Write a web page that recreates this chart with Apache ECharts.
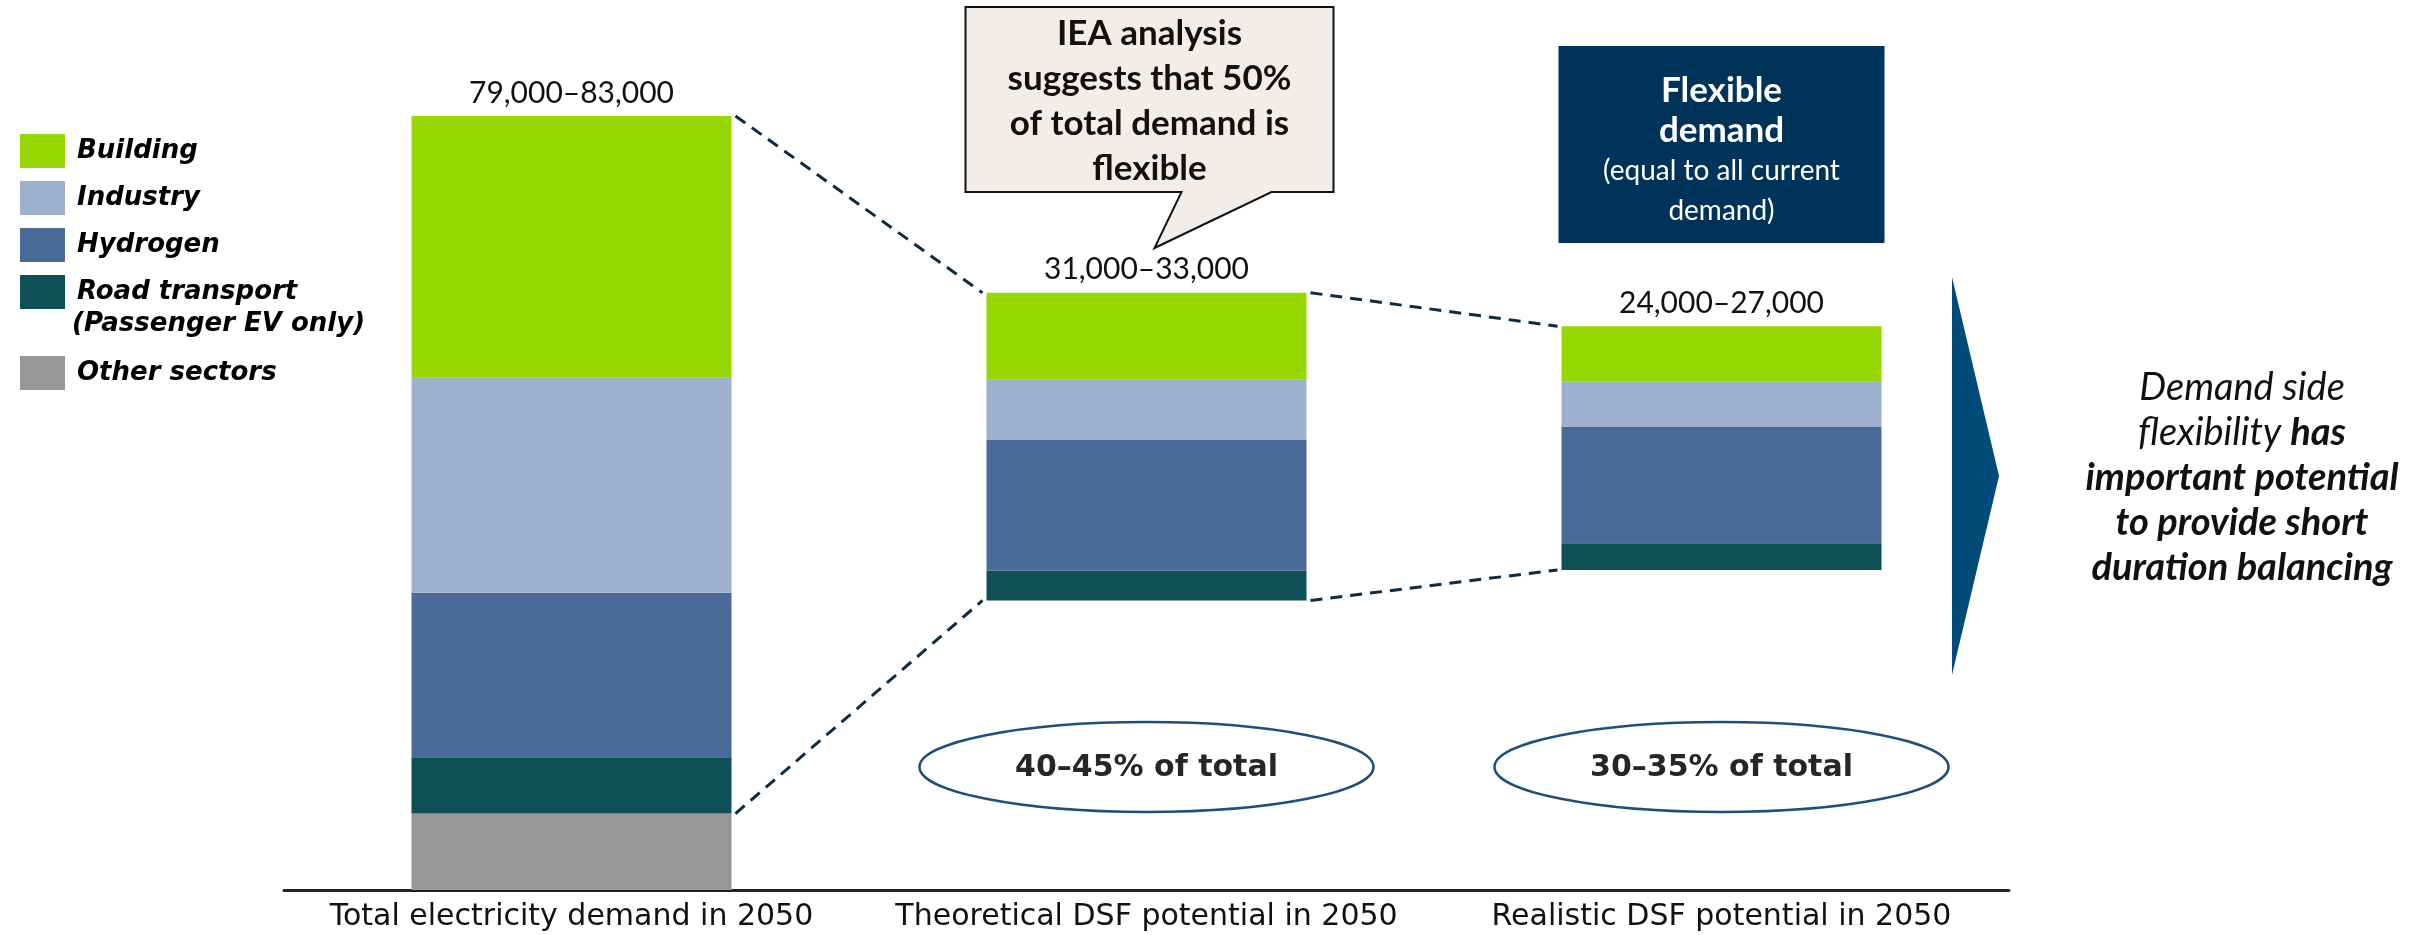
<!DOCTYPE html>
<html>
<head>
<meta charset="utf-8">
<script src="https://cdn.jsdelivr.net/npm/echarts@6/dist/echarts.min.js"></script>
<style>
  html, body { margin: 0; padding: 0; background: #fff; }
  #main { width: 2425px; height: 935px; }
</style>
</head>
<body>
<div id="main"></div>
<script>
// Electricity demand in 2050 and demand side flexibility
const categories = ['Total electricity demand in 2050', 'Theoretical DSF potential in 2050', 'Realistic DSF potential in 2050'];
const offset   = [0, 30300, 33500];      // invisible base so the DSF bars float
const other    = [8000, 0, 0];
const road     = [5900, 3100, 2800];
const hydrogen = [17200, 13700, 12200];
const industry = [22500, 6300, 4700];
const building = [27400, 9100, 5800];
const totalLabels = ['79,000–83,000', '31,000–33,000', '24,000–27,000'];
const shareLabels = ['', '40–45% of total', '30–35% of total'];

const FONT = 'Lato, "Noto Sans", sans-serif';
const WIDE = '"DejaVu Sans", sans-serif';
const colors = { building: '#97d700', industry: '#9db0ce', hydrogen: '#4a6b9a', road: '#0e5056', other: '#979797' };
const BAR_W = 320;

function barSeries(name, data, color) {
    return { name, type: 'bar', stack: 'd', data, barWidth: BAR_W, itemStyle: { color }, silent: true };
}

const legendText = { fontSize: 26, fontWeight: 'bold', fontStyle: 'italic', color: '#000', fontFamily: WIDE, padding: [0, 0, 0, 7] };

const option = {
    animation: false,
    grid: { left: 284, right: 416, top: 30, bottom: 45 },
    legend: [
        { data: ['Building', 'Industry', 'Hydrogen', 'Road transport'], orient: 'vertical', left: 15, top: 129,
          icon: 'rect', itemWidth: 45, itemHeight: 34, itemGap: 13, selectedMode: false, textStyle: legendText },
        { data: ['Other sectors'], orient: 'vertical', left: 15, top: 351,
          icon: 'rect', itemWidth: 45, itemHeight: 34, selectedMode: false, textStyle: legendText }
    ],
    xAxis: {
        type: 'category', data: categories,
        axisLine: { lineStyle: { color: '#222', width: 3 } },
        axisTick: { show: false },
        axisLabel: { interval: 0, fontSize: 30, color: '#111', margin: 12, fontFamily: WIDE }
    },
    yAxis: { type: 'value', min: 0, max: 90000, show: false, splitLine: { show: false } },
    series: [
        { name: 'base', type: 'bar', stack: 'd', data: offset, barWidth: BAR_W, itemStyle: { color: 'transparent' }, silent: true },
        barSeries('Other sectors', other, colors.other),
        barSeries('Road transport', road, colors.road),
        barSeries('Hydrogen', hydrogen, colors.hydrogen),
        barSeries('Industry', industry, colors.industry),
        Object.assign(barSeries('Building', building, colors.building), {
            label: { show: true, position: 'top', distance: 8, fontSize: 30, color: '#111', fontFamily: FONT,
                     formatter: p => totalLabels[p.dataIndex] }
        })
    ]
};

const chart = echarts.init(document.getElementById('main'));
chart.setOption(option);

// --- annotations placed from the chart's own scale ---
function px(i, v) { return chart.convertToPixel({ gridIndex: 0 }, [i, v]); }
function flexTop(i) { return offset[i] + other[i] + road[i] + hydrogen[i] + industry[i] + building[i]; }
function flexBottom(i) { return offset[i] + other[i]; }

const graphics = [];
const dash = { stroke: '#0d2b45', lineWidth: 3, lineDash: [12, 8] };
for (let i = 0; i < categories.length - 1; i++) {
    const a = px(i, flexTop(i)), b = px(i + 1, flexTop(i + 1));
    const c = px(i, flexBottom(i)), d = px(i + 1, flexBottom(i + 1));
    const h = BAR_W / 2;
    graphics.push({ type: 'line', shape: { x1: a[0] + h + 4, y1: a[1], x2: b[0] - h - 4, y2: b[1] }, style: dash, silent: true });
    graphics.push({ type: 'line', shape: { x1: c[0] + h + 4, y1: c[1], x2: d[0] - h - 4, y2: d[1] }, style: dash, silent: true });
}

// ellipses with share of total
for (let i = 1; i < categories.length; i++) {
    const cx = px(i, 0)[0];
    graphics.push({ type: 'ellipse', shape: { cx, cy: 767, rx: 227, ry: 45 },
        style: { fill: '#fff', stroke: '#1f4e79', lineWidth: 2.5 }, silent: true });
    graphics.push({ type: 'text', x: cx, y: 768, silent: true,
        style: { text: shareLabels[i], align: 'center', verticalAlign: 'middle', fontSize: 30, fontWeight: 'bold', fontFamily: WIDE, fill: '#262626' } });
}

// callout above theoretical bar
const c1 = px(1, 0)[0];
graphics.push({ type: 'polygon', silent: true,
    shape: { points: [[c1 - 181, 7], [c1 + 187, 7], [c1 + 187, 192], [c1 + 125, 192], [c1 + 8, 248], [c1 + 35, 192], [c1 - 181, 192]] },
    style: { fill: '#f2ede8', stroke: '#111', lineWidth: 2 } });
graphics.push({ type: 'text', x: c1 + 3, y: 101, silent: true,
    style: { text: 'IEA analysis\nsuggests that 50%\nof total demand is\nflexible', align: 'center', verticalAlign: 'middle',
             fontSize: 35, lineHeight: 45, fontWeight: 'bold', fontFamily: FONT, fill: '#111' } });

// flexible demand box above realistic bar
const c2 = px(2, 0)[0];
graphics.push({ type: 'rect', silent: true, shape: { x: c2 - 163, y: 46, width: 326, height: 197 }, style: { fill: '#003359' } });
graphics.push({ type: 'text', x: c2, y: 151, silent: true,
    style: { text: '{b|Flexible}\n{b|demand}\n{n|(equal to all current}\n{n|demand)}', align: 'center', verticalAlign: 'middle',
             fill: '#fff', rich: {
                 b: { fontSize: 35, fontWeight: 'bold', lineHeight: 40, fontFamily: FONT, fill: '#fff' },
                 n: { fontSize: 28, lineHeight: 40, fontFamily: FONT, fill: '#fff' } } } });

// arrow and conclusion
graphics.push({ type: 'polygon', silent: true, shape: { points: [[1952, 277], [1999, 476], [1952, 675]] }, style: { fill: '#004b78' } });
graphics.push({ type: 'text', x: 2242, y: 478, silent: true,
    style: { text: '{n|Demand side}\n{n|flexibility }{b|has}\n{b|important potential}\n{b|to provide short}\n{b|duration balancing}',
             align: 'center', verticalAlign: 'middle', rich: {
                 n: { fontSize: 38, fontStyle: 'italic', lineHeight: 45, fontFamily: FONT, fill: '#111' },
                 b: { fontSize: 38, fontStyle: 'italic', fontWeight: 'bold', lineHeight: 45, fontFamily: FONT, fill: '#111' } } } });

// second line of the road transport legend entry
graphics.push({ type: 'text', x: 72, y: 324, silent: true,
    style: { text: '(Passenger EV only)', verticalAlign: 'middle', fontSize: 26, fontWeight: 'bold', fontStyle: 'italic', fontFamily: WIDE, fill: '#000' } });

chart.setOption({ graphic: graphics });
window.addEventListener('resize', () => chart.resize());
</script>
</body>
</html>
